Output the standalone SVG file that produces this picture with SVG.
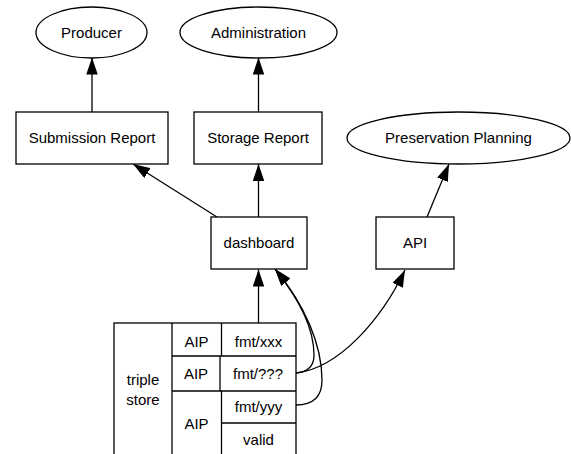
<svg xmlns="http://www.w3.org/2000/svg" width="571" height="454" viewBox="0 0 571 454">
  <style>
    .shape { fill: #ffffff; stroke: #000000; stroke-width: 1.3; }
    .edge { fill: none; stroke: #000000; stroke-width: 1.3; }
    .label { font-family: "Liberation Sans", Arial, sans-serif; font-size: 15px; fill: #000000; text-anchor: middle; }
  </style>
  <defs>
    <marker id="arrow" markerUnits="userSpaceOnUse" markerWidth="18" markerHeight="12" refX="17" refY="5.75" orient="auto">
      <path d="M0,0 L17,5.75 L0,11.5 z" fill="#000000"/>
    </marker>
  </defs>

  <rect width="571" height="454" fill="#ffffff"/>

  <g id="connectors">
    <line class="edge" x1="92" y1="112" x2="92" y2="57.5" marker-end="url(#arrow)"/>
    <line class="edge" x1="258.5" y1="112" x2="258.5" y2="57.5" marker-end="url(#arrow)"/>
    <line class="edge" x1="217" y1="217" x2="133" y2="164" marker-end="url(#arrow)"/>
    <line class="edge" x1="258.5" y1="217" x2="258.5" y2="164" marker-end="url(#arrow)"/>
    <line class="edge" x1="427" y1="217" x2="449" y2="164" marker-end="url(#arrow)"/>
    <line class="edge" x1="258.5" y1="323" x2="258.5" y2="269.5" marker-end="url(#arrow)"/>
    <path class="edge" d="M296,373 C340,368 382,318 405,270" marker-end="url(#arrow)"/>
    <path class="edge" d="M296,373 C308,372 314,366 314,355 C314,330 300,300 275,269" marker-end="url(#arrow)"/>
    <path class="edge" d="M296,405 C312,405 322,398 322,380 C322,345 305,305 275,269" marker-end="url(#arrow)"/>
  </g>

  <g id="producer">
    <ellipse class="shape" cx="91.5" cy="32.5" rx="55.5" ry="25.5"/>
    <text class="label" x="91.5" y="38">Producer</text>
  </g>
  <g id="administration">
    <ellipse class="shape" cx="258.5" cy="32.5" rx="78.5" ry="25.5"/>
    <text class="label" x="258.5" y="38">Administration</text>
  </g>
  <g id="submission-report">
    <rect class="shape" x="16" y="112" width="152" height="52"/>
    <text class="label" x="92" y="143">Submission Report</text>
  </g>
  <g id="storage-report">
    <rect class="shape" x="194" y="112" width="128" height="52"/>
    <text class="label" x="258" y="143">Storage Report</text>
  </g>
  <g id="preservation-planning">
    <ellipse class="shape" cx="458.5" cy="138" rx="111.5" ry="26"/>
    <text class="label" x="458.5" y="143">Preservation Planning</text>
  </g>
  <g id="dashboard">
    <rect class="shape" x="211" y="217" width="96" height="52"/>
    <text class="label" x="259" y="248">dashboard</text>
  </g>
  <g id="api">
    <rect class="shape" x="376" y="217" width="78" height="52"/>
    <text class="label" x="415" y="248">API</text>
  </g>

  <g id="triple-store">
    <rect class="shape" x="114" y="323" width="182" height="140"/>
    <line class="edge" x1="172" y1="323" x2="172" y2="460"/>
    <line class="edge" x1="172" y1="356" x2="296" y2="356"/>
    <line class="edge" x1="172" y1="391" x2="296" y2="391"/>
    <line class="edge" x1="221" y1="423" x2="296" y2="423"/>
    <line class="edge" x1="221.5" y1="323" x2="221.5" y2="356"/>
    <line class="edge" x1="220" y1="356" x2="220" y2="391"/>
    <line class="edge" x1="221.5" y1="391" x2="221.5" y2="460"/>
    <text class="label" x="143" y="385">triple</text>
    <text class="label" x="143" y="405">store</text>
    <text class="label" x="196.5" y="347">AIP</text>
    <text class="label" x="196" y="379">AIP</text>
    <text class="label" x="196.5" y="429">AIP</text>
    <text class="label" x="258.5" y="347">fmt/xxx</text>
    <text class="label" x="258" y="379">fmt/???</text>
    <text class="label" x="258.5" y="412">fmt/yyy</text>
    <text class="label" x="258.5" y="445">valid</text>
  </g>
</svg>
